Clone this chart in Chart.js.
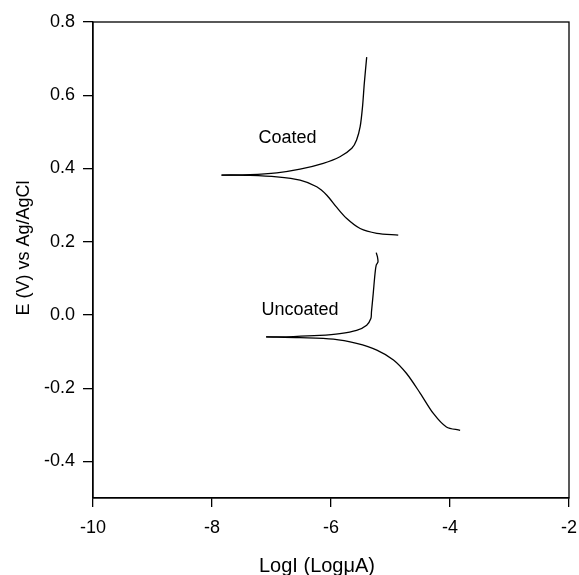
<!DOCTYPE html>
<html>
<head>
<meta charset="utf-8">
<script src="https://cdn.jsdelivr.net/npm/chart.js@4/dist/chart.umd.min.js"></script>
<style>
  html, body { margin: 0; padding: 0; background: #fff; }
  #wrap { width: 579px; height: 575px; }
</style>
</head>
<body>
<div id="wrap"><canvas id="c" width="579" height="575"></canvas></div>
<script>
// Potentiodynamic polarization curves: log current vs potential
const xTicks = [-10, -8, -6, -4, -2];
const yTicks = [-0.4, -0.2, 0.0, 0.2, 0.4, 0.6, 0.8];
const xTitle = 'LogI (LogμA)';
const yTitle = 'E (V) vs Ag/AgCl';

// Coated sample, anodic branch (from corrosion potential upward)
const coatedAnodicLogI = [-7.84, -7.36, -6.91, -6.52, -6.13, -5.85, -5.65, -5.57, -5.51, -5.47, -5.44, -5.40];
const coatedAnodicE    = [0.382, 0.383, 0.388, 0.398, 0.414, 0.432, 0.455, 0.478, 0.514, 0.569, 0.633, 0.704];
// Coated sample, cathodic branch
const coatedCathodicLogI = [-7.84, -7.36, -6.91, -6.52, -6.24, -6.07, -5.91, -5.74, -5.51, -5.23, -4.87];
const coatedCathodicE    = [0.382, 0.381, 0.377, 0.368, 0.350, 0.327, 0.295, 0.264, 0.236, 0.223, 0.218];

// Uncoated sample, anodic branch
const uncoatedAnodicLogI = [-7.09, -6.63, -6.19, -5.85, -5.57, -5.40, -5.33, -5.32, -5.29, -5.26, -5.24, -5.21, -5.22, -5.24];
const uncoatedAnodicE    = [-0.060, -0.059, -0.056, -0.051, -0.042, -0.028, -0.010, 0.008, 0.059, 0.113, 0.136, 0.145, 0.159, 0.170];
// Uncoated sample, cathodic branch
const uncoatedCathodicLogI = [-7.09, -6.52, -5.96, -5.57, -5.23, -4.95, -4.73, -4.50, -4.28, -4.06, -3.83];
const uncoatedCathodicE    = [-0.060, -0.062, -0.066, -0.078, -0.096, -0.123, -0.160, -0.214, -0.269, -0.306, -0.315];

const curveLabels = [
  { text: 'Coated',   x: -6.73, y: 0.482 },
  { text: 'Uncoated', x: -6.52, y: 0.013 }
];

const pts = (xs, ys) => xs.map((x, i) => ({ x: x, y: ys[i] }));

const FONT = "'Liberation Sans', Arial, sans-serif";

function branch(xs, ys) {
  return {
    data: pts(xs, ys),
    showLine: true,
    borderColor: '#000',
    borderWidth: 1.3,
    pointRadius: 0,
    tension: 0.3,
    fill: false
  };
}

// Frame around the plot area, axis titles and in-plot curve labels
const framePlugin = {
  id: 'frame',
  afterDatasetsDraw(chart) {
    const { ctx, chartArea: a, scales } = chart;
    ctx.save();
    ctx.strokeStyle = '#000';
    ctx.lineWidth = 1.3;
    ctx.strokeRect(a.left, a.top, a.right - a.left, a.bottom - a.top);
    ctx.fillStyle = '#000';
    ctx.textAlign = 'center';
    ctx.textBaseline = 'middle';

    ctx.font = '18px ' + FONT;
    curveLabels.forEach(l => {
      ctx.fillText(l.text, scales.x.getPixelForValue(l.x), scales.y.getPixelForValue(l.y));
    });

    // x axis title
    ctx.font = '20px ' + FONT;
    ctx.fillText(xTitle, (a.left + a.right) / 2 - 14, a.bottom + 68);

    // y axis title (rotated)
    ctx.font = '18px ' + FONT;
    ctx.translate(a.left - 69, (a.top + a.bottom) / 2 - 12);
    ctx.rotate(-Math.PI / 2);
    ctx.fillText(yTitle, 0, 0);
    ctx.restore();
  }
};

new Chart(document.getElementById('c'), {
  type: 'scatter',
  data: {
    datasets: [
      branch(coatedAnodicLogI, coatedAnodicE),
      branch(coatedCathodicLogI, coatedCathodicE),
      branch(uncoatedAnodicLogI, uncoatedAnodicE),
      branch(uncoatedCathodicLogI, uncoatedCathodicE)
    ]
  },
  options: {
    responsive: false,
    animation: false,
    layout: { padding: { top: 22, right: 10, left: 0, bottom: 0 } },
    plugins: { legend: { display: false }, tooltip: { enabled: false } },
    scales: {
      x: {
        type: 'linear',
        min: -10, max: -2,
        afterBuildTicks: s => { s.ticks = xTicks.map(v => ({ value: v })); },
        afterFit: s => { s.height = 77; s.paddingLeft = 0; s.paddingRight = 0; },
        border: { display: true, color: '#000', width: 1.3 },
        grid: { drawOnChartArea: false, drawTicks: true, tickLength: 9, color: '#000', lineWidth: 1.3 },
        ticks: { color: '#000', font: { family: FONT, size: 18 }, padding: 10, maxRotation: 0,
                 callback: v => String(v) }
      },
      y: {
        type: 'linear',
        min: -0.5, max: 0.8,
        afterBuildTicks: s => { s.ticks = yTicks.map(v => ({ value: v })); },
        afterFit: s => { s.width = 93; s.paddingTop = 0; s.paddingBottom = 0; },
        border: { display: true, color: '#000', width: 1.3 },
        grid: { drawOnChartArea: false, drawTicks: true, tickLength: 10, color: '#000', lineWidth: 1.3 },
        ticks: { color: '#000', font: { family: FONT, size: 18 }, padding: 8,
                 callback: v => v.toFixed(1) }
      }
    }
  },
  plugins: [framePlugin]
});
</script>
</body>
</html>
